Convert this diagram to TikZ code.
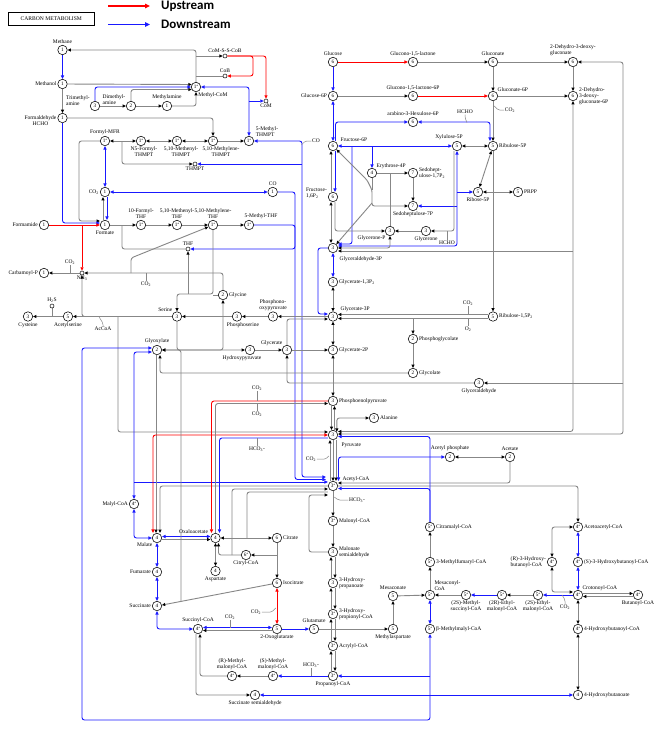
\documentclass[tikz,border=0pt]{standalone}
\usepackage{fontspec}
\setmainfont{Liberation Serif}
\newfontfamily\legfont{Carlito}
\usetikzlibrary{arrows.meta,positioning,backgrounds}
\definecolor{keggblue}{RGB}{25,25,255}
\definecolor{keggred}{RGB}{255,0,0}
\definecolor{kegggray}{RGB}{135,135,135}
\newcommand{\cst}[1]{#1\raisebox{1.2pt}{\fontsize{3.6}{3.6}\selectfont *}}
\newcommand{\ksub}[1]{\textsubscript{#1}}

\begin{document}
\begin{tikzpicture}[x=1pt,y=-1pt,
    cpd/.style={circle, draw=black, line width=0.55pt, fill=white,
        minimum size=9.5pt, inner sep=0pt, font=\fontsize{5.2}{5.2}\selectfont},
    smcpd/.style={circle, draw=black, line width=0.5pt, fill=white,
        minimum size=4pt, inner sep=0pt},
    lbl/.style={font=\fontsize{5.5}{6}\selectfont, inner sep=0.6pt, align=center},
    every label/.style={lbl}, label distance=0.3pt,
    gline/.style={draw=kegggray, line width=0.9pt, rounded corners=2.5pt,
        >={Triangle[length=3.3pt,width=3pt,color=black]}},
    bline/.style={draw=keggblue, line width=0.9pt, rounded corners=2.5pt,
        >={Triangle[length=3.5pt,width=3.2pt]}},
    rline/.style={draw=keggred, line width=0.9pt, rounded corners=2.5pt,
        >={Triangle[length=3.5pt,width=3.2pt]}},
    tick/.style={draw=kegggray, line width=0.5pt, rounded corners=1.5pt}
]
\useasboundingbox (0,0) rectangle (660,729);

% title and legend
\node[draw, line width=0.8pt, minimum width=86pt, minimum height=12.3pt, inner sep=0pt,
      font=\fontsize{5.6}{6}\selectfont] (title) at (51.3,18.8) {CARBON METABOLISM};
\node[anchor=west, inner sep=0pt, font=\legfont\bfseries\fontsize{13}{13}\selectfont] (upt) at (161,6) {Upstream};
\node[anchor=west, inner sep=0pt, font=\legfont\bfseries\fontsize{13}{13}\selectfont] (downt) at (161,24.5) {Downstream};

% methane / methanol
\node[cpd, label={above:Methane}] (methane) at (62.5,50) {1};
\node[cpd, label={left:Methanol}] (methanol) at (62.5,84) {1};
\node[cpd, label={[yshift=-3pt]left:{Formaldehyde\\HCHO}}] (hcho) at (62.5,118) {1};
\node[cpd] (tma) at (95,106) {3};
\node[lbl, align=left] (lbtma) at (78,100.5) {Trimethyl-\\amine};
\node[cpd] (dma) at (131,106) {2};
\node[lbl, align=left] (lbdma) at (114,99.5) {Dimethyl-\\amine};
\node[cpd, label={above:Methylamine}] (mma) at (167,106) {1};
\node[cpd] (mcom) at (196,87) {\cst1};
\node[lbl] (lbmcom) at (213,95) {Methyl-CoM};
\node[smcpd, label={above:CoM-S-S-CoB}] (coss) at (225,56) {};
\node[smcpd, label={above:CoB}] (cob) at (225,76) {};
\node[smcpd, label={below:CoM}] (com) at (266,101) {};
\node[cpd, label={above:Formyl-MFR}] (fmfr) at (105,141) {\cst1};
\node[cpd, label={[xshift=3pt]below:{N5-Formyl-\\THMPT}}] (n5f) at (141,141) {\cst1};
\node[cpd, label={[xshift=4pt]below:{5,10-Methenyl-\\THMPT}}] (menthmpt) at (177,141) {\cst1};
\node[cpd, label={[xshift=8pt]below:{5,10-Methylene-\\THMPT}}] (mlthmpt) at (213,141) {\cst1};
\node[cpd] (mthmpt) at (249,141) {\cst1};
\node[lbl, align=left, anchor=west] (lbmthmpt) at (255,131.5) {5-Methyl-\\THMPT};
\node[smcpd, label={below:THMPT}] (thmpt) at (195,164) {};
\node[lbl] (lbco) at (316,141) {CO};

% formate / THF
\node[cpd, label={above:CO}] (co) at (272.7,192) {1};
\node[cpd, label={left:CO\ksub2}] (co2a) at (105,192) {1};
\node[cpd, label={below:Formate}] (formate) at (105,225) {1};
\node[cpd, label={left:Formamide}] (formamide) at (44,225) {1};
\node[cpd, label={above:{10-Formyl-\\THF}}] (fthf) at (141,225) {\cst1};
\node[cpd, label={above:{5,10-Methenyl-\\THF}}] (menthf) at (177,225) {\cst1};
\node[cpd, label={above:{5,10-Methylene-\\THF}}] (mlthf) at (213,225) {\cst1};
\node[cpd, label={[xshift=12pt]above:5-Methyl-THF}] (mthf) at (249,225) {\cst1};
\node[smcpd, label={above:THF}] (thf) at (188,249) {};
\node[smcpd, label={below:NH\ksub3}] (nh3) at (82,273) {};
\node[cpd, label={left:Carbamoyl-P}] (carbp) at (44,273) {1};
\node[lbl] (lbco2b) at (70,262) {CO\ksub2};
\node[lbl] (lbco2c) at (146,284) {CO\ksub2};

% serine / glycine
\node[cpd, label={below:Cysteine}] (cys) at (28,316.5) {3};
\node[cpd, label={below:Acetylserine}] (acser) at (68,316.5) {5};
\node[smcpd, label={above:H\ksub2S}] (h2s) at (52,306) {};
\node[lbl] (lbaccoa) at (103,329) {AcCoA};
\node[cpd, label={above left:Serine}] (serine) at (177,316.5) {3};
\node[cpd, label={right:Glycine}] (glycine) at (223,295) {2};
\node[cpd, label={[xshift=6pt]below:Phosphoserine}] (pser) at (237,316.5) {3};
\node[cpd, label={above:{Phosphono-\\oxypyruvate}}] (phpyr) at (273,316.5) {3};
\node[cpd, label={[xshift=-8pt]below:Hydroxypyruvate}] (hpyr) at (250,350) {3};
\node[cpd, label={above left:Glycerate}] (glycerate) at (287,350) {3};
\node[cpd, label={above:Glyoxylate}] (glyox) at (157,350) {2};

% glycolysis column
\node[cpd, label={above:Glucose}] (glc) at (333,62) {6};
\node[cpd, label={left:Glucose-6P}] (g6p) at (333,96) {6};
\node[cpd, label={[xshift=3pt]above right:Fructose-6P}] (f6p) at (333,146) {6};
\node[cpd, label={[yshift=4pt,align=left]left:{Fructose-\\1,6P\ksub2}}] (fbp) at (333,197) {6};
\node[cpd, label={[yshift=-4pt,xshift=2pt]below right:Glyceraldehyde-3P}] (g3p) at (333,248) {3};
\node[cpd, label={right:{Glycerate-1,3P\ksub2}}] (bpg) at (333,282) {3};
\node[cpd, label={[xshift=3pt]above right:Glycerate-3P}] (p3g) at (333,316.5) {3};
\node[cpd, label={right:Glycerate-2P}] (p2g) at (333,350) {3};
\node[cpd, label={right:Phosphoenolpyruvate}] (pep) at (333,401) {3};
\node[cpd, label={right:Alanine}] (alanine) at (374,418) {3};
\node[cpd, label={[yshift=-3pt,xshift=4pt]below right:Pyruvate}] (pyr) at (333,435) {3};
\node[cpd, label={[xshift=5pt]above right:Acetyl-CoA}] (accoa) at (333,486) {\cst3};
\node[cpd, label={right:Malonyl-CoA}] (malcoa) at (333,521) {\cst3};
\node[cpd, label={[align=left]right:{Malonate\\semialdehyde}}] (msa) at (333,552) {3};
\node[cpd, label={[align=left]right:{3-Hydroxy-\\propanoate}}] (hp) at (333,583) {3};
\node[cpd, label={[align=left]right:{3-Hydroxy-\\propionyl-CoA}}] (hpcoa) at (333,614) {\cst3};
\node[cpd, label={right:Acrylyl-CoA}] (acrcoa) at (333,646) {\cst3};
\node[cpd, label={below:Propanoyl-CoA}] (propcoa) at (333,676) {\cst3};

% pentose phosphate
\node[cpd, label={above:{Glucono-1,5-lactone}}] (gl15) at (413,62) {6};
\node[cpd, label={above:Gluconate}] (gluconate) at (493,62) {6};
\node[cpd, label={[align=left]above:{2-Dehydro-3-deoxy-\\gluconate}}] (kdg) at (573,62) {6};
\node[cpd, label={above:{Glucono-1,5-lactone-6P}}] (gl6p) at (413,96) {6};
\node[cpd, label={above right:Gluconate-6P}] (gnt6p) at (493,96) {6};
\node[cpd, label={[align=left]right:{2-Dehydro-\\3-deoxy-\\gluconate-6P}}] (kdpg) at (573,96) {6};
\node[cpd, label={above:arabino-3-Hexulose-6P}] (hex6p) at (413,122) {6};
\node[cpd, label={[xshift=-8pt]above:Xylulose-5P}] (xu5p) at (457,146) {5};
\node[cpd, label={right:Ribulose-5P}] (ru5p) at (493,146) {5};
\node[cpd, label={above right:Erythrose-4P}] (e4p) at (372,173) {4};
\node[cpd, label={[align=left]right:{Sedohept-\\ulose-1,7P\ksub2}}] (sbp) at (413,173) {7};
\node[cpd, label={below:Sedoheptulose-7P}] (s7p) at (413,206) {7};
\node[cpd, label={below:Ribose-5P}] (r5p) at (478,192) {5};
\node[cpd, label={right:PRPP}] (prpp) at (518,192) {5};
\node[cpd, label={below left:Glycerone-P}] (dhap) at (390,231) {3};
\node[cpd, label={below:Glycerone}] (dha) at (426,231) {3};
\node[cpd, label={right:{Ribulose-1,5P\ksub2}}] (rubp) at (493,316.5) {5};
\node[cpd, label={right:Phosphoglycolate}] (pglyc) at (413,339) {2};
\node[cpd, label={right:Glycolate}] (glycolate) at (413,373) {2};
\node[cpd, label={below:Glyceraldehyde}] (glyald) at (479,383) {3};
\node[lbl] (lbco2d) at (510,110) {CO\ksub2};
\node[lbl] (lbhcho) at (465,112) {HCHO};
\node[lbl] (lbhcho2) at (447,243) {HCHO};
\node[lbl] (lbco2e) at (468,303) {CO\ksub2};
\node[lbl] (lbo2) at (468,329) {O\ksub2};

% acetyl-CoA branches
\node[cpd, label={above:Acetyl phosphate}] (acp) at (450,457) {2};
\node[cpd, label={above:Acetate}] (acetate) at (510,457) {2};
\node[cpd, label={right:Citramalyl-CoA}] (citmcoa) at (430,527) {\cst5};
\node[cpd, label={right:Acetoacetyl-CoA}] (aacoa) at (578,527) {\cst4};
\node[cpd, label={right:3-Methylfumaryl-CoA}] (mfcoa) at (430,562) {\cst5};
\node[cpd, label={[align=left]left:{(R)-3-Hydroxy-\\butanoyl-CoA}}] (rhbcoa) at (552,562) {\cst4};
\node[cpd, label={right:(S)-3-Hydroxybutanoyl-CoA}] (shbcoa) at (578,562) {\cst4};
\node[cpd, label={[align=left]above right:{Mesaconyl-\\CoA}}] (mescoa) at (430,595) {\cst5};
\node[cpd, label={below:{(2S)-Methyl-\\succinyl-CoA}}] (msucoa) at (466,595) {\cst5};
\node[cpd, label={below:{(2R)-Ethyl-\\malonyl-CoA}}] (remcoa) at (502,595) {\cst5};
\node[cpd, label={below:{(2S)-Ethyl-\\malonyl-CoA}}] (semcoa) at (538,595) {\cst5};
\node[cpd, label={above right:Crotonoyl-CoA}] (crcoa) at (578,595) {\cst4};
\node[cpd, label={below:Butanoyl-CoA}] (bucoa) at (638,595) {\cst4};
\node[cpd, label={right:β-Methylmalyl-CoA}] (bmmcoa) at (430,629) {\cst5};
\node[cpd, label={right:4-Hydroxybutanoyl-CoA}] (hbcoa) at (578,629) {\cst4};
\node[cpd, label={right:4-Hydroxybutanoate}] (hb) at (578,695) {4};
\node[lbl] (lbco2h) at (311,459) {CO\ksub2};
\node[lbl] (lbhco3b) at (357,500) {HCO\ksub3-};
\node[lbl] (lbco2k) at (565,607) {CO\ksub2};

% TCA and friends
\node[cpd, label={left:Malyl-CoA}] (malylcoa) at (134,504) {\cst4};
\node[cpd, label={below left:Malate}] (malate) at (157,538) {4};
\node[cpd, label={left:Fumarate}] (fumarate) at (157,572) {4};
\node[cpd, label={left:Succinate}] (succinate) at (157,606) {4};
\node[cpd, label={above:Succinyl-CoA}] (succoa) at (198,629) {\cst4};
\node[cpd, label={[xshift=-3pt]above left:Oxaloacetate}] (oaa) at (215.5,538) {4};
\node[cpd, label={right:Citrate}] (citrate) at (277,538) {6};
\node[cpd, label={below:Citryl-CoA}] (citcoa) at (246,555) {\cst6};
\node[cpd, label={below:Aspartate}] (asp) at (215.5,571) {4};
\node[cpd, label={right:Isocitrate}] (icit) at (277,583) {6};
\node[cpd, label={below:2-Oxoglutarate}] (akg) at (277,629) {5};
\node[cpd, label={above:Glutamate}] (glu) at (314,629) {5};
\node[cpd, label={below:Methylaspartate}] (measp) at (393,629) {5};
\node[cpd, label={above:Mesaconate}] (mesac) at (393,596) {5};
\node[cpd, label={above:{(R)-Methyl-\\malonyl-CoA}}] (rmmcoa) at (232,676) {\cst4};
\node[cpd, label={above:{(S)-Methyl-\\malonyl-CoA}}] (smmcoa) at (273,676) {\cst4};
\node[cpd, label={below:Succinate semialdehyde}] (ssa) at (255,695) {4};
\node[lbl] (lbco2f) at (257,388) {CO\ksub2};
\node[lbl] (lbco2g) at (257,414) {CO\ksub2};
\node[lbl] (lbhco3a) at (257,449) {HCO\ksub3-};
\node[lbl] (lbco2i) at (230,617) {CO\ksub2};
\node[lbl] (lbco2j) at (256,612) {CO\ksub2};
\node[lbl] (lbhco3c) at (311,665) {HCO\ksub3-};

\begin{scope}[on background layer]
\fill[white] (0,0) rectangle (660,729);
\draw[rline, line width=1.3pt, >={Triangle[length=5pt,width=4.5pt]}, ->]
    ([xshift=-53pt]upt.west) -- ([xshift=-11pt]upt.west);
\draw[bline, line width=1.3pt, >={Triangle[length=5pt,width=4.5pt]}, ->]
    ([xshift=-53pt]downt.west) -- ([xshift=-11pt]downt.west);

% methane metabolism
\draw[bline,->] (methane) -- (methanol);
\draw[gline,->] (methanol) -- (hcho);
\draw[gline,->] (methanol) -- (mcom.150);
\draw[bline,->] (tma) |- (mcom.west);
\draw[gline,->] (dma) |- (mcom.210);
\draw[gline,->] (tma) -- (dma);
\draw[gline,->] (dma) -- (mma);
\draw[gline,->] (mma) -| (mcom);
\draw[gline,->] (mcom) |- (methane);
\draw[gline,->] (mcom.north |- coss) -- (coss);
\draw[gline] (mcom.north |- cob) -- (cob);
\draw[rline,->] (coss) -- ++(28,0) |- (cob);
\draw[rline,->] (coss) -| (com);
\coordinate (bj1) at (249,101);
\draw[bline,<->] (mthmpt) |- (mcom);
\draw[bline,->] (bj1) -- (com);
\draw[gline,->] (hcho) -| (mlthmpt);
\draw[gline,<->] (fmfr) -- (n5f);
\coordinate (fj) at (122,141);
\draw[gline,->] (fj) |- (thmpt);
\draw[gline,<->] (n5f) -- (menthmpt);
\draw[gline,<->] (menthmpt) -- (mlthmpt);
\draw[gline,->] (mlthmpt) -- (mthmpt);
\draw[bline,<->] (mthmpt) -| (302,300) |- ([xshift=-2pt,yshift=9pt]accoa.west);
\coordinate (bj2) at (302,164);
\draw[bline,->] (bj2) -- (thmpt);

% formate and THF
\draw[gline,->] (fmfr) -| (79,180) |- ([yshift=4pt]formate.west);
\draw[bline,->] (hcho) |- ([yshift=2pt]formate.west);
\draw[rline,->] (formamide) -- (formate);
\coordinate (rj) at (82,225);
\draw[rline,->] (rj) -- (nh3);
\draw[bline,<->] (fmfr) -- (co2a);
\draw[gline,->] ([xshift=-2pt]formate.north) -- ([xshift=-2pt]co2a.south);
\draw[bline,->] ([xshift=2pt]co2a.south) -- ([xshift=2pt]formate.north);
\draw[bline,<->] (co2a) -- (co);
\draw[bline,->] (co) -| (295,300) |- ([xshift=-2pt,yshift=6.5pt]accoa.west);
\draw[bline,->] (mthf) -| (295,240) |- (thf);
\draw[gline,->] (formate) -- (fthf);
\draw[gline,->] (fthf) -- (menthf);
\draw[gline,->] (menthf) -- (mlthf);
\draw[gline,->] (mlthf) -- (mthf);
\coordinate (tj) at (122,225);
\draw[gline] (tj) |- (thf);
\draw[gline,->] (glycine) |- (nh3);
\coordinate (gj) at (131,273);
\draw[gline,->] (gj) -- (131,258) -- (mlthf);
\draw[gline,->] (nh3) -- (carbp);
\draw[gline,->] (mlthf) |- (177,294) -- (serine);
\coordinate (sj) at (188,294);
\draw[gline,->] (sj) -- (thf);
\draw[gline] (glycine) -- (glycine -| mlthf);

% serine
\draw[gline,->] (serine) -- (acser);
\draw[gline,->] (acser) -- (cys);
\draw[gline,->] (pser) -- (serine);
\draw[gline,->] (phpyr) -- (pser);
\draw[gline,->] (p3g) -- (phpyr);
\coordinate (sdj) at (118,316.5);
\draw[gline,->] (sdj) |- ([yshift=3pt]pyr.west);
\draw[gline,->] (sdj) -| (nh3);
\draw[gline,->] (serine) |- (hpyr);
\draw[gline,<->] (glycine) |- (glyox);
\draw[gline,->] (hpyr) -- (glycerate);
\draw[gline,->] (glycerate) -- (p2g);
\draw[gline,->] (glycerate) |- ([yshift=-2.5pt]p3g.west);
\draw[gline,->] (glyald) -| (glycerate);

% photorespiration
\coordinate (pj) at (413,318.5);
\draw[gline,->] (pj) -- (pglyc);
\draw[gline,->] (pglyc) -- (glycolate);
\draw[gline,->] (glycolate) -| ([xshift=3pt]glyox.south);
\draw[gline,->] ([yshift=2pt]rubp.west) -- ([yshift=2pt]p3g.east);
\draw[gline,->] ([yshift=-2pt]rubp.west) -- ([yshift=-2pt]p3g.east);
\draw[gline,->] (ru5p) -- (rubp);

% glycolysis, pentose phosphate, Entner-Doudoroff
\draw[rline,->] (glc) -- (gl15);
\draw[bline,->] (glc) -- (g6p);
\draw[gline,->] (gl15) -- (gluconate);
\draw[gline,->] (gluconate) -- (kdg);
\draw[gline,->] (gluconate) -- (gnt6p);
\draw[gline,->] (g6p) -- (gl6p);
\draw[rline,->] (gl6p) -- (gnt6p);
\draw[gline,->] (gnt6p) -- (kdpg);
\draw[gline,->] (kdg) -- (kdpg);
\draw[gline,<->] (kdpg) |- ([yshift=3.5pt]pyr.east);
\coordinate (kj) at (573,251);
\draw[gline,->] (kj) -- ([yshift=-3pt]g3p.east);
\draw[gline,<->] (kdg) -| (623,300) |- ([yshift=1pt]pyr.east);
\coordinate (gaj) at (623,383);
\draw[gline,->] (gaj) -- (glyald);
\draw[gline,->] (gnt6p) -- (ru5p);
\draw[bline,<->] (g6p) -- (f6p);
\draw[bline,->] ([xshift=2.5pt]f6p.north) |- (hex6p);
\draw[bline,<->] (hex6p) -| ([xshift=-3pt]ru5p.north);
\draw[bline,<->] (f6p) -- (xu5p);
\coordinate (bx1) at (352,146);
\draw[bline,->] (bx1) |- ([yshift=4pt]g3p.east);
\coordinate (bx2) at (372,146);
\draw[bline,->] (bx2) -- (e4p);
\draw[gline,<->] (xu5p) -- (ru5p);
\draw[gline,<->] (r5p) -- (ru5p);
\draw[gline,<->] (r5p) -- (prpp);
\draw[bline,<->] (xu5p) |- ([yshift=2pt]g3p.east);
\coordinate (tk1) at (457,192);
\draw[bline,->] (tk1) -- (r5p);
\coordinate (tk2) at (457,206);
\draw[bline,->] (tk2) -- (s7p);
\draw[gline,->] ([xshift=-3pt]xu5p.south) |- (dha);
\draw[gline,->] (dha) -- (dhap);
\draw[gline,<->] ([xshift=-2pt]fbp.south) -- ([xshift=-2pt]g3p.north);
\draw[gline,->] ([xshift=2pt]fbp.south) |- (dhap);
\draw[gline,<->] (dhap) |- (g3p.east);
\draw[gline,->] (e4p) -- (sbp);
\draw[gline] (dhap) -- (dhap |- e4p);
\draw[gline,->] (sbp) -- (s7p);
\coordinate (ta1) at (372,190);
\coordinate (ta2) at (372,203);
\draw[gline,<->] (f6p) -- (367,180) -- (ta1) |- (s7p);
\draw[gline] (e4p) -- (ta1);
\draw[gline,->] (ta2) -- (g3p);
\draw[bline,->] ([xshift=2pt]f6p.south) -- ([xshift=2pt]fbp.north);
\draw[gline,->] ([xshift=-2pt]fbp.north) -- ([xshift=-2pt]f6p.south);
\draw[bline,<->] (g3p) -- (bpg);
\draw[gline,<->] (bpg) -- (p3g);
\draw[bline,->] (g3p) -| (318,290) |- ([yshift=2.5pt]p3g.west);
\draw[gline,<->] (p3g) -- (p2g);
\draw[gline,<->] (p2g) -- (pep);
\draw[gline,->] ([xshift=-1.5pt]pep.south) -- ([xshift=-1.5pt]pyr.north);
\draw[gline,->] ([xshift=1.5pt]pyr.north) -- ([xshift=1.5pt]pep.south);
\draw[gline,<->] (pyr.40) |- (alanine);

% acetyl-CoA
\draw[gline,->] ([xshift=-3pt]accoa.north) -- ([xshift=-3pt]pyr.south);
\draw[gline,->] (pyr) -- (accoa);
\draw[gline,->] ([xshift=3pt]pyr.south) -- ([xshift=3pt]accoa.north);
\draw[bline,<->] (acp) -| ([xshift=5.5pt]accoa.north);
\draw[gline,<->] (acp) -- (acetate);
\draw[gline,->] (acetate) |- ([yshift=3pt]accoa.east);
\draw[gline,->] (accoa.east) -| (aacoa);
\draw[bline,->] (citmcoa) |- ([yshift=-2.5pt]accoa.east);
\draw[bline,->] (citmcoa) |- ([yshift=-1.5pt]pyr.east);
\draw[gline,->] (accoa) -- (malcoa);
\draw[gline,->] (malcoa) -- (msa);
\foreach \a/\b in {msa/hp,hp/hpcoa,hpcoa/acrcoa,acrcoa/propcoa}{
  \draw[gline,->] ([xshift=2pt]\a.south) -- ([xshift=2pt]\b.north);
  \draw[gline,->] ([xshift=-2pt]\b.north) -- ([xshift=-2pt]\a.south);
}
\draw[gline,->] (msa) -| (309,520) |- ([yshift=-9pt]accoa.west);

% glyoxylate and TCA
\draw[bline,<->] (malylcoa) |- ([yshift=-2pt]glyox.west);
\coordinate (mj) at (134,482);
\draw[bline,->] (mj) -- ([yshift=4pt]accoa.west);
\draw[bline,<->] (bmmcoa) |- (82,720) |- ([yshift=2pt]glyox.west);
\coordinate (bm1) at (430,676);
\draw[bline,->] (bm1) -- (propcoa);
\draw[gline,->] ([xshift=-1pt]glyox.south) -- ([xshift=-1pt]malate.north);
\draw[gline,->] (accoa.west) -| ([xshift=3pt]malate.north);
\draw[rline,<->] ([xshift=-4pt]malate.north) |- (pyr);
\draw[rline,->] (pep) -| ([xshift=-4pt]oaa.north);
\draw[gline,->] (oaa) |- ([yshift=-2.5pt]pep.west);
\draw[bline,->] ([yshift=-3pt]pyr.west) -| ([xshift=4pt]oaa.north);
\draw[bline,<->] ([yshift=1.5pt]malate.east) -- ([yshift=1.5pt]oaa.west);
\draw[gline,->] ([yshift=-1.5pt]malate.east) -- ([yshift=-1.5pt]oaa.west);
\draw[bline,<->] (malylcoa) |- (malate);
\draw[bline,<->] (malate) -- (fumarate);
\draw[bline,<->] (fumarate) -- (succinate);
\draw[bline,<->] (succinate) |- (succoa);
\draw[gline,<->] (oaa) -- (citrate);
\draw[gline,<->] (oaa) -- (asp);
\draw[gline,->] (citrate) -- (icit);
\draw[gline,->] (citrate.south |- citcoa) -- (citcoa);
\draw[gline,->] (citcoa) -| ([xshift=3pt]oaa.south);
\coordinate (cs) at (247,538);
\draw[gline] ([yshift=-6pt]accoa.west) -| (cs);
\coordinate (cl) at (232,555);
\draw[gline,->] (cl) |- ([yshift=-3pt]accoa.west);
\draw[gline,->] (icit) -- (succinate);
\coordinate (il) at (181,601.4);
\draw[gline,->] (il) |- (glyox);
\draw[rline,<->] (icit) -- (akg);
\draw[bline,<->] ([yshift=1.5pt]succoa.east) -- ([yshift=1.5pt]akg.west);
\draw[gline,->] ([yshift=-1.5pt]akg.west) -- ([yshift=-1.5pt]succoa.east);
\draw[bline,->] (akg) -- (glu);
\draw[gline,->] (glu) -- (measp);
\draw[gline,->] (measp) -- (mesac);
\draw[gline,->] (mesac) -- (mescoa);
\draw[bline,<->] (mescoa) -- (bmmcoa);
\draw[gline,->] (mescoa) -- (mfcoa);
\draw[gline,->] (mfcoa) -- (citmcoa);
\draw[bline,->] (crcoa) -- (semcoa);
\draw[gline,->] (semcoa) -- (remcoa);
\draw[bline,->] (remcoa) -- (msucoa);
\draw[gline,->] (msucoa) -- (mescoa);
\draw[bline,<->] (aacoa) -- (shbcoa);
\draw[bline,<->] (shbcoa) -- (crcoa);
\draw[gline,<->] (rhbcoa) |- (aacoa);
\draw[gline,<->] (rhbcoa) |- ([yshift=3pt]crcoa.west);
\draw[gline,->] ([yshift=1.5pt]crcoa.east) -- ([yshift=1.5pt]bucoa.west);
\draw[gline,->] ([yshift=-1.5pt]bucoa.west) -- ([yshift=-1.5pt]crcoa.east);
\draw[gline,<->] (crcoa) -- (hbcoa);
\draw[gline,<->] (hbcoa) -- (hb);
\draw[bline,<->] (ssa) -- (hb);
\draw[gline,->] ([xshift=-2pt]succoa.south) |- (ssa);
\draw[gline,->] (rmmcoa) -| ([xshift=2pt]succoa.south);
\draw[gline,->] (smmcoa) -- (rmmcoa);
\draw[bline,->] (propcoa) -- (smmcoa);

% side compounds
\draw[tick] (lbco.west) -- ++(-6,0) -- ++(-4,4);
\draw[tick] (lbco2d.west) -- ++(-6,0) -- ++(-4,-4);
\draw[tick] (lbhcho.south) -- ++(0,3) -- ++(2,5);
\draw[tick] (lbhcho2.north) -- (lbhcho2.north |- dha);
\draw[tick] (lbco2e.south) -- ++(0,8.5);
\draw[tick] (lbo2.north) -- ++(0,-8);
\draw[tick] (lbco2b.south) -- ++(0,8);
\draw[tick] (lbco2c.north) -- ++(0,-8);
\draw[tick] (h2s) -- (h2s |- acser);
\draw[tick] (lbaccoa.north) -- ++(0,-3) -- ++(-4,-6.6);
\draw[tick] (lbco2f.south) -- ++(0,10);
\draw[tick] (lbco2g.north) -- ++(0,-8);
\draw[tick] (lbhco3a.north) -- ++(0,-8);
\draw[tick] (lbco2h.east) -- ++(9,0) -- ++(3,-3);
\draw[tick] (lbhco3b.west) -- ++(-10,0) -- ++(-4,-3);
\draw[tick] (lbco2i.south) -- ++(0,8);
\draw[tick] (lbco2j.east) -- ++(10,0) -- ++(4,-4);
\draw[tick] (lbhco3c.south) -- ++(0,8);
\draw[tick] (lbco2k.north) -- ++(0,-4) -- ++(-3,-5);
\end{scope}
\end{tikzpicture}
\end{document}
